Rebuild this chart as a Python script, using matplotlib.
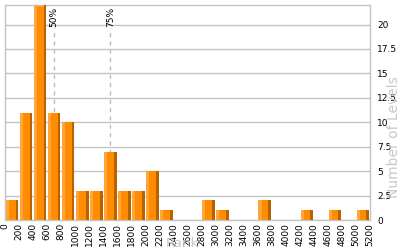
import matplotlib
matplotlib.use("Agg")
import matplotlib.pyplot as plt
import numpy as np

bin_edges = list(range(0, 5201, 200))
counts = [2, 11, 22, 11, 10, 3, 3, 7, 3, 3, 5, 1, 0, 0, 2, 1, 0, 0, 2, 0, 0, 1, 0, 1, 0, 1]
percentile_pos = [700, 1500]
percentile_labels = ["50%", "75%"]
y_ticks = [0, 2.5, 5, 7.5, 10, 12.5, 15, 17.5, 20]
y_tick_labels = ["0", "2.5", "5", "7.5", "10", "12.5", "15", "17.5", "20"]

fig = plt.figure(figsize=(4, 2.5), dpi=100)
ax = fig.add_axes([0.0125, 0.12, 0.9125, 0.86])

grid_c = "#c4c4c4"
ax.set_axisbelow(True)
for yt in y_ticks:
    ax.axhline(yt, color=grid_c, lw=1, zorder=0)

lefts = np.array(bin_edges[:-1])
vals = np.array(counts)
ax.bar(lefts + 10, vals, width=180, align="edge", color="#FF8C00", lw=0, zorder=2)
ax.bar(lefts + 10, vals, width=45, align="edge", color="#FFA53A", lw=0, zorder=3)
ax.bar(lefts + 150, vals, width=40, align="edge", color="#B86200", lw=0, zorder=3)

for p, lab in zip(percentile_pos, percentile_labels):
    ax.plot([p, p], [0, 19.6], color="#bdbdbd", lw=1, ls=(0, (3, 3)), zorder=1)
    ax.text(p, 21.85, lab, rotation=90, ha="center", va="top", fontsize=6.5, color="black")

ax.set_xlim(0, 5200)
ax.set_ylim(0, 22)
ax.set_xticks(bin_edges)
ax.set_xticklabels([str(e) for e in bin_edges], rotation=90, fontsize=6.5)
ax.set_yticks(y_ticks)
ax.set_yticklabels(y_tick_labels, fontsize=6.5)
ax.yaxis.tick_right()
ax.tick_params(axis="both", length=0)
ax.tick_params(axis="x", pad=2)
ax.tick_params(axis="y", pad=5)
for s in ax.spines.values():
    s.set_color(grid_c)
    s.set_linewidth(1)

fig.text(0.455, 0.0, "Rank", color="#c8c8c8", fontsize=9.5, ha="center", va="bottom")
fig.text(0.985, 0.45, "Number of Levels", color="#c8c8c8", fontsize=10, rotation=90, ha="center", va="center")

fig.savefig("out.png", dpi=100)
